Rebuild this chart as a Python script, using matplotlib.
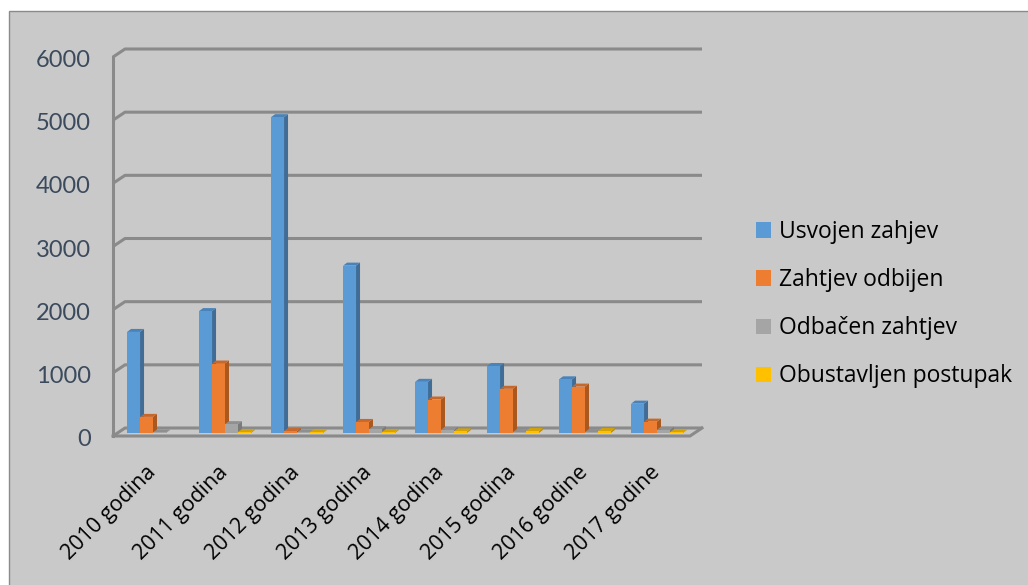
import numpy as np
import matplotlib
matplotlib.use('Agg')
import matplotlib.pyplot as plt
import matplotlib.transforms as mtransforms
from matplotlib.patches import Polygon, Rectangle, Patch

plt.rcParams['font.family'] = ['Open Sans', 'DejaVu Sans']

## Data
years = ['2010 godina', '2011 godina', '2012 godina', '2013 godina',
         '2014 godina', '2015 godina', '2016 godine', '2017 godine']
usvojen = [1600, 1930, 5000, 2650, 810, 1060, 850, 465]
odbijen = [255, 1100, 30, 175, 530, 700, 735, 180]
odbacen = [8, 140, 8, 60, 50, 15, 15, 50]
obustavljen = [0, 15, 10, 15, 25, 30, 30, 10]
series_names = ['Usvojen zahjev', 'Zahtjev odbijen', 'Odbačen zahtjev', 'Obustavljen postupak']
yticks = [0, 1000, 2000, 3000, 4000, 5000, 6000]

# front, side, top colours for each series
colors = [('#5b9bd5', '#3f6d98', '#4a83b9'),
          ('#ed7d31', '#a9581f', '#c8672a'),
          ('#a5a5a5', '#7a7a7a', '#8f8f8f'),
          ('#ffc000', '#c09000', '#d6a200')]

W, H = 1028, 585
fig = plt.figure(figsize=(W/100, H/100), dpi=100)
fig.patch.set_facecolor('white')

# chart area (gray) with border on the left and top
fig.patches.append(Rectangle((9/W, -0.01), 1.1, 1 - 11/H + 0.01, transform=fig.transFigure,
                             facecolor='#c9c9c9', edgecolor='#8a8a8a', lw=1.0, zorder=-10))

ax_l, ax_r, ax_b, ax_t = 117/W, 694/W, 152/H, 531/H
ax = fig.add_axes([ax_l, ax_b, ax_r - ax_l, ax_t - ax_b])
ax.set_facecolor('none')
xmin, xmax = -0.5, 7.514
ymin, ymax = 0, 6000
ax.set_xlim(xmin, xmax)
ax.set_ylim(ymin, ymax)
for s in ax.spines.values():
    s.set_visible(False)

# pixel -> data unit conversion
px_x = (xmax - xmin) / ((ax_r - ax_l) * W)
px_y = (ymax - ymin) / ((ax_t - ax_b) * H)

grid_c = '#8a8a8a'
glw = 2.2
# offsets of front and back planes relative to the bar plane (in px)
fx, fy = -4, -3
bx, by = 8, 5

# back wall gridlines with the slanted left part
for v in yticks:
    ax.plot([xmin + fx*px_x, xmin + bx*px_x, xmax + bx*px_x],
            [v + fy*px_y, v + by*px_y, v + by*px_y],
            color=grid_c, lw=glw, solid_capstyle='butt', clip_on=False, zorder=1)
# left vertical axis line (front)
ax.plot([xmin + fx*px_x, xmin + fx*px_x], [fy*px_y, 6000 + fy*px_y],
        color=grid_c, lw=glw, clip_on=False, zorder=1)
# floor front edge and right slant
ax.plot([xmin + fx*px_x, xmax + fx*px_x, xmax + bx*px_x],
        [fy*px_y, fy*px_y, by*px_y],
        color=grid_c, lw=glw, clip_on=False, zorder=1, solid_joinstyle='miter')

## Bars with a small depth effect
x = np.arange(len(years))
bw = 0.18
ddx, ddy = 4*px_x, 3*px_y
all_series = [usvojen, odbijen, odbacen, obustavljen]
for k, vals in enumerate(all_series):
    cf, cs, ct = colors[k]
    xl = x - 2*bw + k*bw
    for i in range(len(x)):
        h = vals[i]
        if h <= 0:
            continue
        z = 2 + k*0.1 + i*0.01
        ax.bar(xl[i], h, width=bw, align='edge', color=cf, lw=0, zorder=z + 0.005)
        xr = xl[i] + bw
        ax.add_patch(Polygon([(xr, 0), (xr, h), (xr + ddx, h + ddy), (xr + ddx, ddy)],
                             closed=True, facecolor=cs, lw=0, zorder=z))
        ax.add_patch(Polygon([(xl[i], h), (xr, h), (xr + ddx, h + ddy), (xl[i] + ddx, h + ddy)],
                             closed=True, facecolor=ct, lw=0, zorder=z))

ax.set_yticks(yticks)
ax.set_yticklabels([str(v) for v in yticks], fontsize=17, color='#3b4a5c',
                   family=['Lato', 'DejaVu Sans'])
ax.tick_params(axis='y', length=0, pad=19)
shift = mtransforms.ScaledTranslation(0, -0.045, fig.dpi_scale_trans)
for lab in ax.get_yticklabels():
    lab.set_transform(lab.get_transform() + shift)

ax.set_xticks(x)
ax.set_xticklabels(years, rotation=45, ha='right', va='center', rotation_mode='anchor',
                   fontsize=15.5, color='black')
ax.tick_params(axis='x', length=0, pad=26)

handles = [Patch(facecolor=c[0], edgecolor='none') for c in colors]
fig.legend(handles, series_names, loc='center left', bbox_to_anchor=(735/W, 0.48),
           frameon=False, fontsize=16.5, handlelength=0.65, handleheight=0.65,
           handletextpad=0.35, labelspacing=1.05)

plt.savefig('out.png', dpi=100)
